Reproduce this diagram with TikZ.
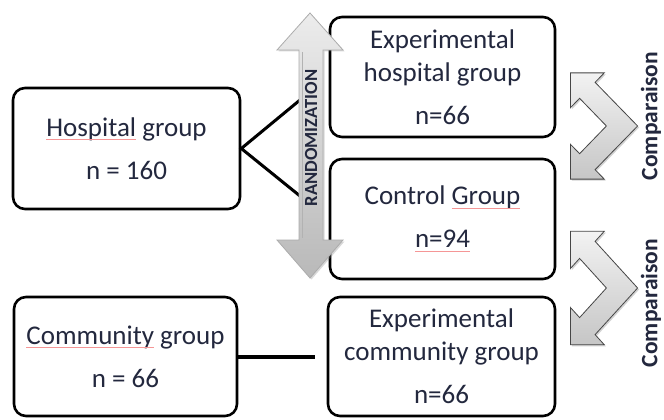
\documentclass[tikz,border=0pt]{standalone}
\usepackage{fontspec}
\setmainfont{Carlito}
\usetikzlibrary{shadows}
\definecolor{txt}{RGB}{35,40,62}
\definecolor{spellred}{RGB}{245,150,150}
\newlength\spellw
\newcommand\spellmark[1]{\settowidth\spellw{#1}#1\llap{\textcolor{spellred}{\rule[-4pt]{\spellw}{0.8pt}}}}
\tikzset{
  grp/.style={draw=black, line width=2.6pt, rounded corners=12pt, fill=white,
    minimum width=225pt, minimum height=120pt, align=center, text=txt,
    font=\fontsize{27}{33}\selectfont, inner sep=0pt},
  link/.style={line width=3pt, draw=black},
  thicklink/.style={line width=4pt, draw=black},
  cmparrow/.style={draw=gray!55!black, line width=0.8pt, top color=gray!10, bottom color=gray!45,
    drop shadow={opacity=0.35, shadow xshift=1.5pt, shadow yshift=-1.5pt}},
  randarrow/.style={draw=gray!65, line width=0.8pt, top color=gray!15, bottom color=gray!55,
    drop shadow={opacity=0.3, shadow xshift=1.5pt, shadow yshift=-1.5pt}},
  cmplabel/.style={font=\fontsize{23.5}{23.5}\selectfont\bfseries, text=txt, rotate=90, inner sep=0pt},
  randlabel/.style={font=\fontsize{18.5}{18.5}\selectfont\bfseries, text=txt, rotate=90, inner sep=0pt}
}
\newcommand\bentarrow[3]{%
  \begin{scope}[shift={(#1,#2)}, yscale=#3]
    \path[cmparrow] (15.6,0) -- (-26.9,-42.4) -- (-17.7,-51.6) -- (-51.6,-51.6) -- (-51.6,-17.7)
      -- (-42.4,-26.9) -- (-15.6,0) -- (-42.4,26.9) -- (-51.6,17.7) -- (-51.6,51.6)
      -- (-17.7,51.6) -- (-26.9,42.4) -- cycle;
  \end{scope}}
\begin{document}
\begin{tikzpicture}[x=1pt, y=-1pt]
  \useasboundingbox (0,0) rectangle (664,420);
  \fill[white] (0,0) rectangle (664,420);

  % boxes
  \node[grp, minimum width=227pt, minimum height=121pt] (hosp) at (126.5,148.5)
    {\spellmark{Hospital} group\\[10pt]n = 160};
  \node[grp] (exph) at (442.5,77) {Experimental\\hospital group\\[10pt]n=66};
  \node[grp] (ctrl) at (442.5,219) {Control \spellmark{Group}\\[10pt]\spellmark{n=94}};
  \node[grp, minimum width=223pt, minimum height=119pt] (comm) at (125.5,356.5)
    {\spellmark{Community} group\\[10pt]n = 66};
  \node[grp, minimum width=227pt, minimum height=119pt] (expc) at (441.5,356.5)
    {Experimental\\community group\\[10pt]n=66};

  % connectors
  \coordinate (hu) at (300,100);
  \coordinate (hl) at (300,196);
  \draw[link] (hu) -- (hosp.east) -- (hl);
  \coordinate (cend) at (315,356.5);
  \draw[thicklink] (comm.east) -- (cend);

  % randomization double arrow
  \path[randarrow] (310,13) -- (343,50) -- (323,50) -- (323,240) -- (343,240) -- (310,278)
    -- (277,240) -- (299,240) -- (299,50) -- (277,50) -- cycle;
  \draw[gray!60, line width=1pt] (302,52) -- (302,238);
  \node[randlabel] (rand) at (311,138) {RANDOMIZATION};

  % comparison arrows
  \bentarrow{622}{126}{1.03}
  \bentarrow{622}{288}{1.1}
  \node[cmplabel] (cmp1) at (651,116) {Comparaison};
  \node[cmplabel] (cmp2) at (651,303) {Comparaison};
\end{tikzpicture}
\end{document}
